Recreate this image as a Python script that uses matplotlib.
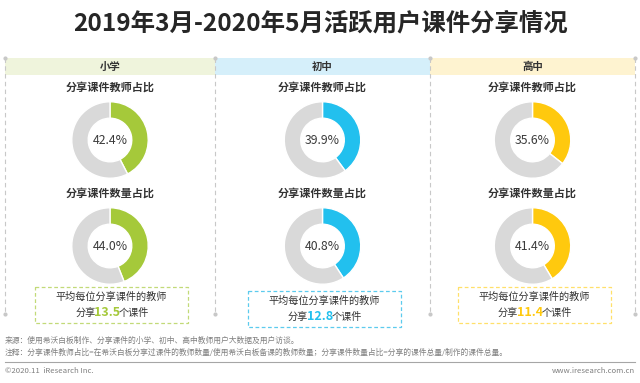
import matplotlib
matplotlib.use("Agg")
import matplotlib.pyplot as plt
from matplotlib.patches import Rectangle

plt.rcParams['font.family'] = ['Noto Sans CJK SC', 'DejaVu Sans']

# data
levels = ['小学', '初中', '高中']
teacher_share = [42.4, 39.9, 35.6]     # 分享课件教师占比 (%)
course_share = [44.0, 40.8, 41.4]      # 分享课件数量占比 (%)
avg_courses = [13.5, 12.8, 11.4]       # 平均每位分享课件的教师分享课件数

main_colors = ['#A5C93A', '#22C0EE', '#FFC90E']
band_colors = ['#EFF4DC', '#D5EFFA', '#FEF3D0']
box_colors = ['#C2DA78', '#5CCBEE', '#FFE06A']
grey = '#D9D9D9'

W, H = 640, 383
fig = plt.figure(figsize=(W / 100, H / 100), dpi=100)
ax = fig.add_axes([0, 0, 1, 1])
ax.set_xlim(0, W)
ax.set_ylim(H, 0)
ax.axis('off')

ax.text(W / 2, 23, '2019年3月-2020年5月活跃用户课件分享情况', ha='center', va='center',
        fontsize=17.6, fontweight='bold', color='#262626')

col_edges = [5, 215, 430, 635]
centers = [(col_edges[i] + col_edges[i + 1]) / 2 for i in range(3)]

# header bands
for i in range(3):
    ax.add_patch(Rectangle((col_edges[i], 58), col_edges[i + 1] - col_edges[i], 17,
                           facecolor=band_colors[i], edgecolor='none', zorder=1))
    ax.text(centers[i], 66.5, levels[i], ha='center', va='center', fontsize=7.5,
            fontweight='bold', color='#333333', zorder=3)

# dashed dividers
for x in col_edges:
    ax.plot([x, x], [58, 314], color='#C8C8C8', lw=0.8, ls=(0, (4, 3)), zorder=2)
    ax.plot([x, x], [58, 314], color='#C8C8C8', lw=0, marker='o', ms=2, zorder=2)


def donut(cx, cy, r, value, color):
    dax = fig.add_axes([(cx - r) / W, (H - cy - r) / H, 2 * r / W, 2 * r / H])
    dax.pie([value, 100 - value], colors=[color, grey], startangle=90, counterclock=False,
            radius=1, wedgeprops=dict(width=0.43, edgecolor='white', linewidth=1))
    dax.set_xlim(-1.02, 1.02)
    dax.set_ylim(-1.02, 1.02)
    dax.set_aspect('equal')
    dax.axis('off')
    dax.text(0, 0, f'{value:.1f}%', ha='center', va='center', fontsize=8.8, color='#3A3A3A')


r = 39
for i in range(3):
    ax.text(centers[i], 87, '分享课件教师占比', ha='center', va='center', fontsize=8,
            fontweight='bold', color='#333333')
    donut(centers[i], 140, r, teacher_share[i], main_colors[i])
    ax.text(centers[i], 193, '分享课件数量占比', ha='center', va='center', fontsize=8,
            fontweight='bold', color='#333333')
    donut(centers[i], 246, r, course_share[i], main_colors[i])

# dashed summary boxes
renderer = fig.canvas.get_renderer()
box_w, box_h = 153, 36
for i in range(3):
    top = 287 if i != 1 else 291
    bx = centers[i] + 1.5 - box_w / 2
    ax.add_patch(Rectangle((bx, top), box_w, box_h, facecolor='white',
                           edgecolor=box_colors[i], lw=0.9, ls=(0, (3, 2)), zorder=3))
    cx = bx + box_w / 2
    ax.text(cx, top + 10, '平均每位分享课件的教师', ha='center', va='center',
            fontsize=7.3, color='#333333', zorder=4)
    parts = [('分享', 7.3, 'normal', '#333333'),
             (f'{avg_courses[i]}', 9, 'bold', main_colors[i]),
             ('个课件', 7.3, 'normal', '#333333')]
    texts = []
    for s, fs, fw, c in parts:
        t = ax.text(0, top + 26, s, ha='left', va='center', fontsize=fs,
                    fontweight=fw, color=c, zorder=4)
        texts.append(t)
    widths = [t.get_window_extent(renderer).width - 1.5 for t in texts]
    x = cx - sum(widths) / 2
    for t, w in zip(texts, widths):
        t.set_x(x)
        x += w

# footer
ax.text(5, 341, '来源：使用希沃白板制作、分享课件的小学、初中、高中教师用户大数据及用户访谈。',
        ha='left', va='center', fontsize=5.6, color='#7F7F7F')
ax.text(5, 353, '注释：分享课件教师占比=在希沃白板分享过课件的教师数量/使用希沃白板备课的教师数量；'
        '分享课件数量占比=分享的课件总量/制作的课件总量。',
        ha='left', va='center', fontsize=5.6, color='#7F7F7F')
ax.plot([5, 635], [362, 362], color='#A6A6A6', lw=0.8)
ax.text(5, 371, '©2020.11  iResearch Inc.', ha='left', va='center', fontsize=5.6, color='#7F7F7F')
ax.text(635, 371, 'www.iresearch.com.cn', ha='right', va='center', fontsize=5.6, color='#7F7F7F')

fig.savefig('out.png', dpi=100)
